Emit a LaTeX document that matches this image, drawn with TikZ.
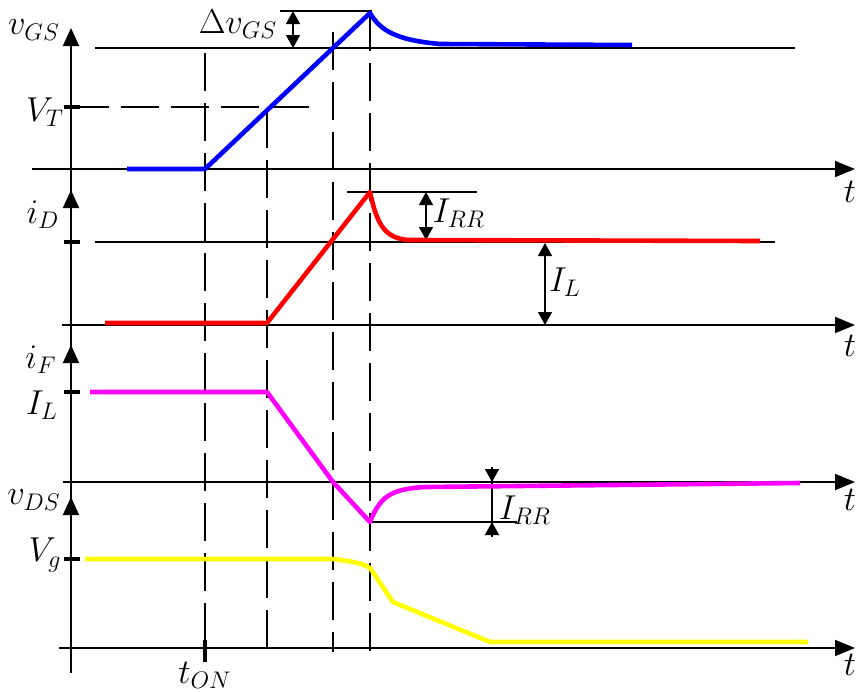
\documentclass[tikz,border=0pt]{standalone}
\usetikzlibrary{arrows.meta}
\definecolor{gsblue}{RGB}{0,0,255}
\definecolor{dred}{RGB}{255,0,0}
\definecolor{fmag}{RGB}{255,0,255}
\definecolor{dsyel}{RGB}{255,255,0}
\begin{document}
\begin{tikzpicture}[
  x=0.5pt, y=-0.5pt,
  font=\fontsize{18}{21}\selectfont,
  axis/.style    ={line width=0.9pt, -{Triangle[length=10pt, width=8pt]}},
  yaxis/.style   ={line width=0.9pt, -{Triangle[length=9pt, width=8pt]}},
  thin/.style    ={line width=0.7pt},
  guide/.style   ={line width=0.7pt, dash pattern=on 19pt off 6pt},
  dim/.style     ={line width=0.7pt, {Triangle[length=6.5pt, width=7pt]}-{Triangle[length=6.5pt, width=7pt]}},
  tickmark/.style={line width=2pt},
  sig/.style     ={line width=2.3pt, line join=round, draw=#1},
  lbl/.style     ={inner sep=0pt}
]
\useasboundingbox (0,0) rectangle (856,691);

% vertical axis, one arrow per panel
\draw[thin] (71,673) -- (71,40);
\foreach \y in {28,190,345,497} \draw[yaxis] (71,\y+20) -- (71,\y);
\foreach \y in {107,242,392,559} \draw[tickmark] (64,\y) -- (80,\y);

% time axes
\draw[axis] (32,169) -- (855,169);
\draw[axis] (62,325) -- (855,325);
\draw[axis] (63,482) -- (855,482);
\draw[axis] (59,648) -- (855,648);
\draw[tickmark] (205,640) -- (205,662);

% instants
\draw[guide] (205,53) -- (205,645);
\draw[guide] (267,110) -- (267,658);
\draw[guide] (333,32) -- (333,652);
\draw[guide] (370,13) -- (370,655);
\draw[guide] (71,107) -- (320,107);

% levels
\draw[thin] (95,48) -- (795,48);
\draw[thin] (280,11) -- (372,11);
\draw[thin] (95,242) -- (775,242);
\draw[thin] (347,192) -- (477,192);
\draw[thin] (370,522) -- (517,522);

% dimensions
\draw[dim] (293,11) -- (293,48);
\draw[dim] (426,192) -- (426,240);
\draw[dim] (545,243) -- (545,325);
\draw[thin] (492,467) -- (492,537);
\draw[thin, -{Triangle[length=6.5pt, width=7pt]}] (492,470) -- (492,482);
\draw[thin, -{Triangle[length=6.5pt, width=7pt]}] (492,534) -- (492,522);

% waveforms
\draw[sig=gsblue] (127,169) -- (205,169) -- (370,13)
  .. controls (380,30) and (395,40) .. (440,44) -- (632,45);
\draw[sig=dred] (105,323) -- (267,323) -- (370,192)
  .. controls (377,225) and (385,238) .. (408,240) -- (760,241);
\draw[sig=fmag] (90,392) -- (267,392) -- (333,482) -- (370,522)
  .. controls (380,497) and (390,489) .. (425,487) -- (800,483);
\draw[sig=dsyel] (85,559) -- (333,559)
  .. controls (350,561) and (362,563) .. (370,568) -- (393,602) -- (490,642) -- (808,642);

% labels
\node[lbl] (vgs)  at (34,30)   {$v_{GS}$};
\node[lbl] (vt)   at (45,112)  {$V_T$};
\node[lbl] (dvgs) at (238,24)  {$\Delta v_{GS}$};
\node[lbl] (id)   at (43,215)  {$i_D$};
\node[lbl] (irr1) at (459,213) {$I_{RR}$};
\node[lbl] (il1)  at (565,282) {$I_L$};
\node[lbl] (if)   at (41,360)  {$i_F$};
\node[lbl] (il2)  at (42,405)  {$I_L$};
\node[lbl] (vds)  at (34,500)  {$v_{DS}$};
\node[lbl] (vg)   at (45,555)  {$V_g$};
\node[lbl] (irr2) at (525,510) {$I_{RR}$};
\node[lbl] (ton)  at (205,675) {$t_{ON}$};
\foreach \y/\n in {192/t1,346/t2,500/t3,665/t4}
  \node[lbl] (\n) at (850,\y) {$t$};
\end{tikzpicture}
\end{document}
